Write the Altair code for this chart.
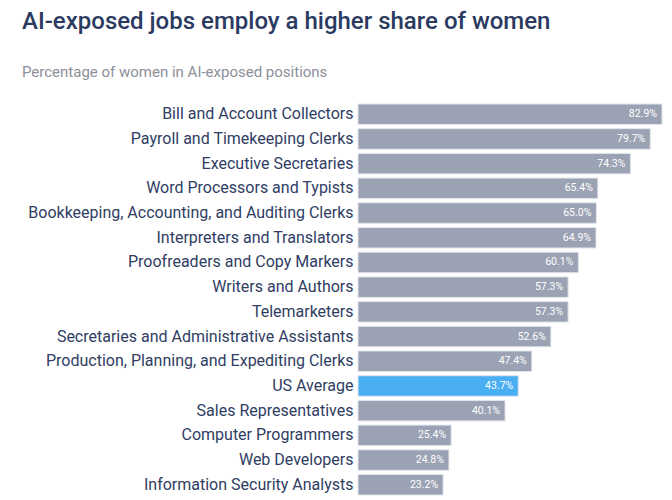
import altair as alt
import pandas as pd

jobs = [
    "Bill and Account Collectors",
    "Payroll and Timekeeping Clerks",
    "Executive Secretaries",
    "Word Processors and Typists",
    "Bookkeeping, Accounting, and Auditing Clerks",
    "Interpreters and Translators",
    "Proofreaders and Copy Markers",
    "Writers and Authors",
    "Telemarketers",
    "Secretaries and Administrative Assistants",
    "Production, Planning, and Expediting Clerks",
    "US Average",
    "Sales Representatives",
    "Computer Programmers",
    "Web Developers",
    "Information Security Analysts",
]
shares = [82.9, 79.7, 74.3, 65.4, 65.0, 64.9, 60.1, 57.3, 57.3, 52.6, 47.4, 43.7, 40.1, 25.4, 24.8, 23.2]
highlight = ["US Average"]

df = pd.DataFrame({"job": jobs, "share": shares})
df["kind"] = ["avg" if j in highlight else "job" for j in jobs]
df["label"] = [f"{v:.1f}%" for v in shares]

base = alt.Chart(df).encode(
    y=alt.Y("job:N", sort=jobs, title=None,
            scale=alt.Scale(paddingInner=0.17, paddingOuter=0.08),
            axis=alt.Axis(domain=False, ticks=False, labelFontSize=16,
                          labelColor="#2f3d63", labelFont="Roboto",
                          labelPadding=5, labelLimit=400)),
)

bars = base.mark_bar(stroke="#e2e5ec", strokeWidth=1).encode(
    x=alt.X("share:Q", title=None, scale=alt.Scale(domain=[0, 82.9], nice=False),
            axis=None),
    color=alt.Color("kind:N", scale=alt.Scale(domain=["job", "avg"],
                                              range=["#9ba2b3", "#4aaff2"]),
                    legend=None),
)

labels = base.mark_text(align="right", baseline="middle", dx=-5, fontSize=10.5,
                        color="white", font="Roboto").encode(
    x=alt.X("share:Q", scale=alt.Scale(domain=[0, 82.9], nice=False)),
    text="label:N",
)

chart = (bars + labels).properties(
    width=304,
    height=395,
    padding={"left": 350, "top": 94, "right": 2, "bottom": 0},
    autosize=alt.AutoSizeParams(type="none"),
    title=alt.TitleParams(
        text="AI-exposed jobs employ a higher share of women",
        subtitle="Percentage of women in AI-exposed positions",
        anchor="start",
        frame="group",
        dx=-336,
        offset=22,
        fontSize=24,
        font="Roboto",
        fontWeight=500,
        color="#2b3a60",
        subtitleFont="Roboto",
        subtitleFontSize=15,
        subtitleColor="#8b9099",
        subtitlePadding=31,
    ),
).configure_view(stroke=None)

chart.save("out.html", embed_options={"renderer": "svg", "actions": False})
